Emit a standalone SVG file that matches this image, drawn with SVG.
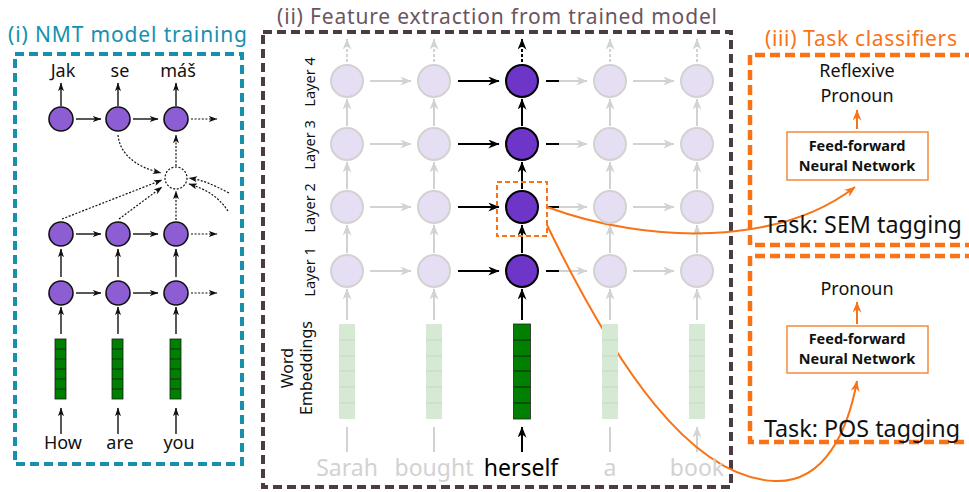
<svg xmlns="http://www.w3.org/2000/svg" width="969" height="492" viewBox="0 0 969 492">
<style>
text{font-family:"Noto Sans","Open Sans","Liberation Sans",sans-serif}
.t{font-size:18px;fill:#111}
.title{font-size:21px}
.w{font-size:23px;text-anchor:middle}
.lay{font-size:14.5px;fill:#111;text-anchor:middle}
.ff{font-size:14.5px;font-weight:bold;fill:#111;text-anchor:middle}
.task{font-size:23.3px;fill:#111;text-anchor:middle}
.pn{fill:#8c5dd3;stroke:#111;stroke-width:1.6}
.hn{fill:#6d36c9;stroke:#000;stroke-width:2}
.gn{fill:#e6dff3;stroke:#d2d2d2;stroke-width:2}
.sb{stroke:#111;stroke-width:1.4;fill:none}
.db{stroke:#111;stroke-width:1.2;stroke-dasharray:2 1.6;fill:none}
.gl{stroke:#d2d2d2;stroke-width:2;fill:none}
.bl{stroke:#000;stroke-width:2;fill:none}
.or{stroke:#f97316;stroke-width:2;fill:none}
</style>
<defs>
<marker id="as" viewBox="0 0 10 7" refX="9.5" refY="3.5" markerWidth="9" markerHeight="6" orient="auto" markerUnits="userSpaceOnUse"><path d="M0,0 L10,3.5 L0,7 L2.5,3.5z" fill="#111"/></marker>
<marker id="ab" viewBox="0 0 10 8" refX="9.5" refY="4" markerWidth="13" markerHeight="9" orient="auto" markerUnits="userSpaceOnUse"><path d="M0,0 L10,4 L0,8 L3,4z" fill="#000"/></marker>
<marker id="ag" viewBox="0 0 10 8" refX="9.5" refY="4" markerWidth="13" markerHeight="9" orient="auto" markerUnits="userSpaceOnUse"><path d="M0,0 L10,4 L0,8 L3,4z" fill="#d2d2d2"/></marker>
<marker id="ao" viewBox="0 0 10 8" refX="9.5" refY="4" markerWidth="11" markerHeight="9" orient="auto" markerUnits="userSpaceOnUse"><path d="M0,0 L10,4 L0,8 L3,4z" fill="#f97316"/></marker>
</defs>

<!-- Panel frames -->
<g id="panel-i">
<rect x="15" y="54" width="227" height="410" fill="none" stroke="#1690ae" stroke-width="4" stroke-dasharray="9 5"/>
<text class="title" x="8" y="42" fill="#1690ae" textLength="239" lengthAdjust="spacing">(i) NMT model training</text>
</g>
<g id="panel-ii">
<rect x="263" y="32" width="468" height="455" fill="none" stroke="#4b3b42" stroke-width="4" stroke-dasharray="9 5"/>
<text class="title" x="277" y="24" fill="#6b555f" textLength="440" lengthAdjust="spacing">(ii) Feature extraction from trained model</text>
</g>
<g id="panel-iii">
<text class="title" x="765" y="46" fill="#f97316" textLength="192" lengthAdjust="spacing">(iii) Task classifiers</text>
<path d="M975,55 H750 V245 H975" fill="none" stroke="#f97316" stroke-width="4.5" stroke-dasharray="10 5"/>
<path d="M975,256 H750 V442 H975" fill="none" stroke="#f97316" stroke-width="4.5" stroke-dasharray="10 5"/>
</g>

<!-- Left panel connectors -->
<g id="left-connectors">
<line class="sb" x1="61" y1="106" x2="61" y2="83" marker-end="url(#as)"/>
<line class="sb" x1="118" y1="106" x2="118" y2="83" marker-end="url(#as)"/>
<line class="sb" x1="176" y1="106" x2="176" y2="83" marker-end="url(#as)"/>
<line class="sb" x1="76" y1="119" x2="101" y2="119" marker-end="url(#as)"/>
<line class="sb" x1="133" y1="119" x2="158" y2="119" marker-end="url(#as)"/>
<line class="db" x1="191" y1="119" x2="217" y2="119" marker-end="url(#as)"/>
<path class="db" d="M118,135 Q121,163 161,173" marker-end="url(#as)"/>
<line class="db" x1="176" y1="166" x2="176" y2="135" marker-end="url(#as)"/>
<line class="db" x1="62" y1="219" x2="162" y2="180" marker-end="url(#as)"/>
<line class="db" x1="119" y1="219" x2="162" y2="187" marker-end="url(#as)"/>
<line class="db" x1="176" y1="220" x2="176" y2="191" marker-end="url(#as)"/>
<path class="db" d="M229,193 C212,184 202,180 189,178" marker-end="url(#as)"/>
<path class="db" d="M228,211 C217,195 205,189 189,184" marker-end="url(#as)"/>
<line class="sb" x1="76" y1="234" x2="101" y2="234" marker-end="url(#as)"/>
<line class="sb" x1="133" y1="234" x2="158" y2="234" marker-end="url(#as)"/>
<line class="db" x1="191" y1="234" x2="217" y2="234" marker-end="url(#as)"/>
<line class="sb" x1="61" y1="277" x2="61" y2="249" marker-end="url(#as)"/>
<line class="sb" x1="118" y1="277" x2="118" y2="249" marker-end="url(#as)"/>
<line class="sb" x1="176" y1="277" x2="176" y2="249" marker-end="url(#as)"/>
<line class="sb" x1="76" y1="293" x2="101" y2="293" marker-end="url(#as)"/>
<line class="sb" x1="133" y1="293" x2="158" y2="293" marker-end="url(#as)"/>
<line class="db" x1="191" y1="293" x2="217" y2="293" marker-end="url(#as)"/>
<line class="sb" x1="61" y1="334" x2="61" y2="307" marker-end="url(#as)"/>
<line class="sb" x1="118" y1="334" x2="118" y2="307" marker-end="url(#as)"/>
<line class="sb" x1="176" y1="334" x2="176" y2="307" marker-end="url(#as)"/>
<line class="sb" x1="61" y1="434" x2="61" y2="408" marker-end="url(#as)"/>
<line class="sb" x1="118" y1="434" x2="118" y2="408" marker-end="url(#as)"/>
<line class="sb" x1="176" y1="434" x2="176" y2="408" marker-end="url(#as)"/>
</g>

<!-- Left panel nodes -->
<g id="dec-nodes">
<circle class="pn" cx="61" cy="119" r="12"/>
<circle class="pn" cx="118" cy="119" r="12"/>
<circle class="pn" cx="176" cy="119" r="12"/>
</g>
<g id="attention">
<circle cx="176" cy="178" r="11" fill="none" stroke="#111" stroke-width="1.2" stroke-dasharray="2 1.6"/>
</g>
<g id="enc2-nodes">
<circle class="pn" cx="61" cy="234" r="12"/>
<circle class="pn" cx="118" cy="234" r="12"/>
<circle class="pn" cx="176" cy="234" r="12"/>
</g>
<g id="enc1-nodes">
<circle class="pn" cx="61" cy="293" r="12"/>
<circle class="pn" cx="118" cy="293" r="12"/>
<circle class="pn" cx="176" cy="293" r="12"/>
</g>
<g id="left-emb" fill="#008000" stroke="#1a1a1a" stroke-width="0.8">
<rect x="55" y="339" width="11" height="60"/>
<path d="M55,349H66M55,359H66M55,369H66M55,379H66M55,389H66"/>
<rect x="112" y="339" width="11" height="60"/>
<path d="M112,349H123M112,359H123M112,369H123M112,379H123M112,389H123"/>
<rect x="170" y="339" width="11" height="60"/>
<path d="M170,349H181M170,359H181M170,369H181M170,379H181M170,389H181"/>
</g>
<g id="left-text" class="t" text-anchor="middle">
<text x="63" y="77">Jak</text>
<text x="120" y="77">se</text>
<text x="178" y="77">máš</text>
<text x="63" y="449">How</text>
<text x="120" y="449">are</text>
<text x="179" y="449">you</text>
</g>

<!-- Center panel connectors -->
<g id="center-connectors">
<g class="gl">
<path d="M347,452V427M434,452V427M610,452V427M697,452V427" marker-end="url(#ag)"/>
<line x1="347" y1="320" x2="347" y2="289" marker-end="url(#ag)"/>
<line x1="434" y1="320" x2="434" y2="289" marker-end="url(#ag)"/>
<line x1="610" y1="320" x2="610" y2="289" marker-end="url(#ag)"/>
<line x1="697" y1="320" x2="697" y2="289" marker-end="url(#ag)"/>
<line x1="347" y1="253" x2="347" y2="225" marker-end="url(#ag)"/>
<line x1="434" y1="253" x2="434" y2="225" marker-end="url(#ag)"/>
<line x1="610" y1="253" x2="610" y2="225" marker-end="url(#ag)"/>
<line x1="697" y1="253" x2="697" y2="225" marker-end="url(#ag)"/>
<line x1="347" y1="189" x2="347" y2="162" marker-end="url(#ag)"/>
<line x1="434" y1="189" x2="434" y2="162" marker-end="url(#ag)"/>
<line x1="610" y1="189" x2="610" y2="162" marker-end="url(#ag)"/>
<line x1="697" y1="189" x2="697" y2="162" marker-end="url(#ag)"/>
<line x1="347" y1="126" x2="347" y2="99" marker-end="url(#ag)"/>
<line x1="434" y1="126" x2="434" y2="99" marker-end="url(#ag)"/>
<line x1="610" y1="126" x2="610" y2="99" marker-end="url(#ag)"/>
<line x1="697" y1="126" x2="697" y2="99" marker-end="url(#ag)"/>
<g stroke-dasharray="3 2">
<line x1="347" y1="62" x2="347" y2="39" marker-end="url(#ag)"/>
<line x1="434" y1="62" x2="434" y2="39" marker-end="url(#ag)"/>
<line x1="610" y1="62" x2="610" y2="39" marker-end="url(#ag)"/>
<line x1="697" y1="62" x2="697" y2="39" marker-end="url(#ag)"/>
</g>
</g>
<g class="gl">
<line x1="370" y1="81" x2="411" y2="81" marker-end="url(#ag)"/>
<line x1="370" y1="144" x2="411" y2="144" marker-end="url(#ag)"/>
<line x1="370" y1="207" x2="411" y2="207" marker-end="url(#ag)"/>
<line x1="370" y1="271" x2="411" y2="271" marker-end="url(#ag)"/>
<line x1="559" y1="81" x2="587" y2="81" marker-end="url(#ag)"/>
<line x1="559" y1="144" x2="587" y2="144" marker-end="url(#ag)"/>
<line x1="559" y1="207" x2="587" y2="207" marker-end="url(#ag)"/>
<line x1="559" y1="271" x2="587" y2="271" marker-end="url(#ag)"/>
<line x1="633" y1="81" x2="674" y2="81" marker-end="url(#ag)"/>
<line x1="633" y1="144" x2="674" y2="144" marker-end="url(#ag)"/>
<line x1="633" y1="207" x2="674" y2="207" marker-end="url(#ag)"/>
<line x1="633" y1="271" x2="674" y2="271" marker-end="url(#ag)"/>
</g>
<g class="bl">
<line x1="458" y1="81" x2="499" y2="81" marker-end="url(#ab)"/>
<line x1="458" y1="144" x2="499" y2="144" marker-end="url(#ab)"/>
<line x1="458" y1="207" x2="499" y2="207" marker-end="url(#ab)"/>
<line x1="458" y1="271" x2="499" y2="271" marker-end="url(#ab)"/>
<path d="M546,81H559M546,144H559M546,207H559M546,271H559"/>
<line x1="522" y1="452" x2="522" y2="427" marker-end="url(#ab)"/>
<line x1="522" y1="320" x2="522" y2="289" marker-end="url(#ab)"/>
<line x1="522" y1="253" x2="522" y2="225" marker-end="url(#ab)"/>
<line x1="522" y1="189" x2="522" y2="162" marker-end="url(#ab)"/>
<line x1="522" y1="126" x2="522" y2="99" marker-end="url(#ab)"/>
<line x1="522" y1="62" x2="522" y2="39" stroke-dasharray="3 2" marker-end="url(#ab)"/>
</g>
<path class="or" d="M547,207 C650,245 780,245 855,187" marker-end="url(#ao)"/>
<path class="or" d="M547,225 C615,365 690,478 775,481 C825,483 848,430 857,381" marker-end="url(#ao)"/>
<line class="or" x1="857" y1="129" x2="857" y2="110" marker-end="url(#ao)"/>
<line class="or" x1="857" y1="324" x2="857" y2="302" marker-end="url(#ao)"/>
</g>

<!-- Center nodes -->
<g id="col-sarah">
<circle class="gn" cx="347" cy="81" r="16"/><circle class="gn" cx="347" cy="144" r="16"/><circle class="gn" cx="347" cy="207" r="16"/><circle class="gn" cx="347" cy="271" r="16"/>
<rect x="339" y="324" width="16" height="95" fill="#d5e9d4"/>
<path d="M339,340H355M339,356H355M339,371H355M339,387H355M339,403H355" stroke="#c4d9c3" stroke-width="1"/>
<text class="w" x="347" y="476" fill="#d2d2d2">Sarah</text>
</g>
<g id="col-bought">
<circle class="gn" cx="434" cy="81" r="16"/><circle class="gn" cx="434" cy="144" r="16"/><circle class="gn" cx="434" cy="207" r="16"/><circle class="gn" cx="434" cy="271" r="16"/>
<rect x="426" y="324" width="16" height="95" fill="#d5e9d4"/>
<path d="M426,340H442M426,356H442M426,371H442M426,387H442M426,403H442" stroke="#c4d9c3" stroke-width="1"/>
<text class="w" x="434" y="476" fill="#d2d2d2">bought</text>
</g>
<g id="col-herself">
<circle class="hn" cx="522" cy="81" r="16"/><circle class="hn" cx="522" cy="144" r="16"/><circle class="hn" cx="522" cy="207" r="16"/><circle class="hn" cx="522" cy="271" r="16"/>
<rect x="513.5" y="324" width="17" height="95" fill="#008000" stroke="#222" stroke-width="0.8"/>
<path d="M513.5,340H530.5M513.5,356H530.5M513.5,371H530.5M513.5,387H530.5M513.5,403H530.5" stroke="#1a1a1a" stroke-width="1"/>
<text class="w" x="521" y="476" fill="#000">herself</text>
<rect x="497" y="182" width="50" height="54" fill="none" stroke="#f97316" stroke-width="2" stroke-dasharray="5 3"/>
</g>
<g id="col-a">
<circle class="gn" cx="610" cy="81" r="16"/><circle class="gn" cx="610" cy="144" r="16"/><circle class="gn" cx="610" cy="207" r="16"/><circle class="gn" cx="610" cy="271" r="16"/>
<rect x="602" y="324" width="16" height="95" fill="#d5e9d4"/>
<path d="M602,340H618M602,356H618M602,371H618M602,387H618M602,403H618" stroke="#c4d9c3" stroke-width="1"/>
<text class="w" x="610" y="476" fill="#d2d2d2">a</text>
</g>
<g id="col-book">
<circle class="gn" cx="697" cy="81" r="16"/><circle class="gn" cx="697" cy="144" r="16"/><circle class="gn" cx="697" cy="207" r="16"/><circle class="gn" cx="697" cy="271" r="16"/>
<rect x="689" y="324" width="16" height="95" fill="#d5e9d4"/>
<path d="M689,340H705M689,356H705M689,371H705M689,387H705M689,403H705" stroke="#c4d9c3" stroke-width="1"/>
<text class="w" x="697" y="476" fill="#d2d2d2">book</text>
</g>
<g id="layer-labels">
<text class="lay" transform="translate(315,82) rotate(-90)">Layer 4</text>
<text class="lay" transform="translate(315,145) rotate(-90)">Layer 3</text>
<text class="lay" transform="translate(315,208) rotate(-90)">Layer 2</text>
<text class="lay" transform="translate(315,272) rotate(-90)">Layer 1</text>
<text class="lay" style="font-size:16px" transform="translate(293,368) rotate(-90)">Word</text>
<text class="lay" style="font-size:16px" transform="translate(312,368) rotate(-90)">Embeddings</text>
</g>

<!-- Classifiers -->
<g id="sem-classifier">
<text class="t" x="857" y="77" text-anchor="middle">Reflexive</text>
<text class="t" x="857" y="102" text-anchor="middle">Pronoun</text>
<rect x="787" y="132" width="141" height="48" fill="#fff" stroke="#f58a3c" stroke-width="1.5"/>
<text class="ff" x="857" y="151">Feed-forward</text>
<text class="ff" x="857" y="171">Neural Network</text>
<text class="task" x="863" y="233">Task: SEM tagging</text>
</g>
<g id="pos-classifier">
<text class="t" x="857" y="295" text-anchor="middle">Pronoun</text>
<rect x="787" y="326" width="141" height="47" fill="#fff" stroke="#f58a3c" stroke-width="1.5"/>
<text class="ff" x="857" y="344">Feed-forward</text>
<text class="ff" x="857" y="364">Neural Network</text>
<text class="task" x="862" y="437">Task: POS tagging</text>
</g>
</svg>
